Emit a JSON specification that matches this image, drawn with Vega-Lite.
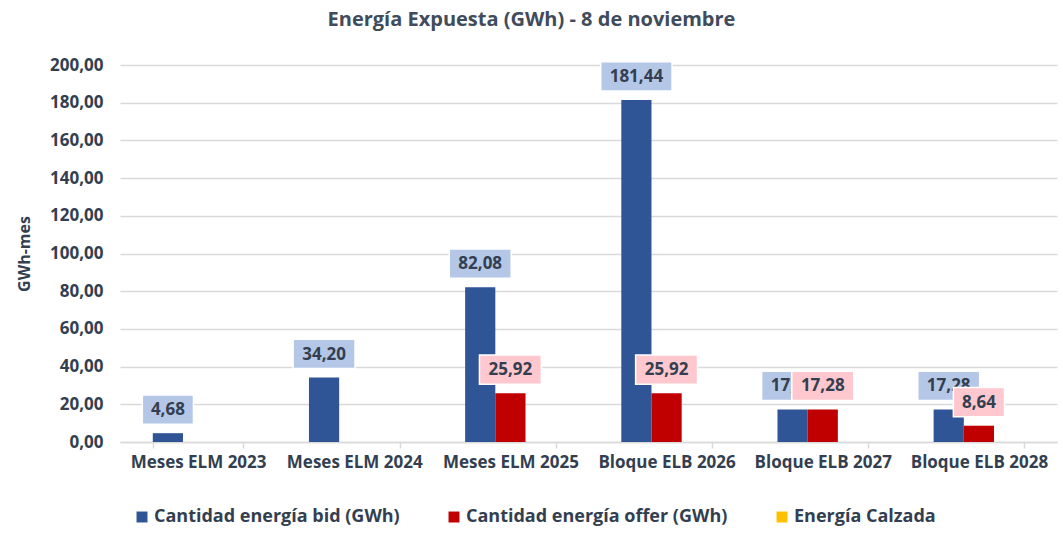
{
  "$schema": "https://vega.github.io/schema/vega-lite/v6.json",
  "autosize": {"type": "none"},
  "padding": {"left": 120, "top": 65, "right": 6, "bottom": 91},
  "width": 937,
  "height": 377,
  "background": "white",
  "title": {"text": "Energía Expuesta (GWh) - 8 de noviembre", "font": "Open Sans", "fontSize": 20, "fontWeight": "bold", "color": "#404b5b", "dx": -57, "offset": 26},
  "config": {
    "locale": {"number": {"decimal": ",", "thousands": ".", "grouping": [3], "currency": ["", ""]}},
    "view": {"stroke": null},
    "font": "Open Sans"
  },
  "data": {"values": [
    {"cat": "Meses ELM 2023", "serie": "Cantidad energía bid (GWh)", "valor": 4.68},
    {"cat": "Meses ELM 2024", "serie": "Cantidad energía bid (GWh)", "valor": 34.20},
    {"cat": "Meses ELM 2025", "serie": "Cantidad energía bid (GWh)", "valor": 82.08},
    {"cat": "Bloque ELB 2026", "serie": "Cantidad energía bid (GWh)", "valor": 181.44},
    {"cat": "Bloque ELB 2027", "serie": "Cantidad energía bid (GWh)", "valor": 17.28},
    {"cat": "Bloque ELB 2028", "serie": "Cantidad energía bid (GWh)", "valor": 17.28},
    {"cat": "Meses ELM 2025", "serie": "Cantidad energía offer (GWh)", "valor": 25.92},
    {"cat": "Bloque ELB 2026", "serie": "Cantidad energía offer (GWh)", "valor": 25.92},
    {"cat": "Bloque ELB 2027", "serie": "Cantidad energía offer (GWh)", "valor": 17.28},
    {"cat": "Bloque ELB 2028", "serie": "Cantidad energía offer (GWh)", "valor": 8.64}
  ]},
  "encoding": {
    "x": {"field": "cat", "type": "nominal", "sort": null,
      "scale": {"domain": ["Meses ELM 2023", "Meses ELM 2024", "Meses ELM 2025", "Bloque ELB 2026", "Bloque ELB 2027", "Bloque ELB 2028"], "paddingInner": 0.42, "paddingOuter": 0.21},
      "axis": {"title": null, "labelAngle": 0, "labelFont": "Open Sans", "labelFontSize": 17, "labelFontWeight": "bold", "labelColor": "#333f50", "domainColor": "#d9d9d9", "domainWidth": 1.5, "tickColor": "#d9d9d9", "tickWidth": 1.5, "tickBand": "extent", "tickSize": 6, "labelPadding": 6, "grid": false}},
    "xOffset": {"field": "serie", "type": "nominal", "scale": {"domain": ["Cantidad energía bid (GWh)", "Cantidad energía offer (GWh)", "Energía Calzada"], "paddingInner": 0, "paddingOuter": 0}},
    "y": {"field": "valor", "type": "quantitative",
      "scale": {"domain": [0, 200], "nice": false},
      "axis": {"title": "GWh-mes", "titleFont": "Open Sans", "titleFontSize": 16, "titleFontWeight": "bold", "titleColor": "#333f50", "titlePadding": 17, "values": [0, 20, 40, 60, 80, 100, 120, 140, 160, 180, 200], "format": ".2f", "labelFont": "Open Sans", "labelFontSize": 17, "labelFontWeight": "bold", "labelColor": "#333f50", "labelPadding": 17, "ticks": false, "domain": false, "gridColor": "#d9d9d9", "gridWidth": 1.5}}
  },
  "layer": [
    {
      "mark": {"type": "bar"},
      "encoding": {
        "color": {"field": "serie", "type": "nominal",
          "scale": {"domain": ["Cantidad energía bid (GWh)", "Cantidad energía offer (GWh)", "Energía Calzada"], "range": ["#2f5597", "#c00000", "#ffc000"]},
          "legend": {"title": null, "orient": "none", "legendX": 13, "legendY": 443, "direction": "horizontal", "symbolType": "square", "symbolSize": 120, "symbolStrokeWidth": 0, "labelFont": "Open Sans", "labelFontSize": 18, "labelFontWeight": "bold", "labelColor": "#333f50", "labelOffset": 3, "labelLimit": 0, "columnPadding": 45}}
      }
    },
    {
      "transform": [{"filter": "datum.serie == 'Cantidad energía bid (GWh)'"}],
      "mark": {"type": "point", "filled": true, "fill": "#b4c7e7", "stroke": "white", "strokeWidth": 1.5, "opacity": 1, "strokeOpacity": 1, "fillOpacity": 1, "size": 5184},
      "encoding": {
        "shape": {"condition": [
          {"test": "datum.valor < 10", "value": "M-0.71,-1.06H0.71V-0.25H-0.71Z"},
          {"test": "datum.valor >= 100", "value": "M-0.99,-1.06H0.99V-0.25H-0.99Z"}
        ], "value": "M-0.86,-1.06H0.86V-0.25H-0.86Z"}
      }
    },
    {
      "transform": [{"filter": "datum.serie == 'Cantidad energía bid (GWh)'"}],
      "mark": {"type": "text", "dy": -23, "baseline": "middle", "align": "center", "font": "Open Sans", "fontSize": 17, "fontWeight": "bold", "color": "#333f50"},
      "encoding": {"text": {"field": "valor", "type": "quantitative", "format": ".2f"}}
    },
    {
      "transform": [{"filter": "datum.serie == 'Cantidad energía offer (GWh)'"}],
      "mark": {"type": "point", "filled": true, "fill": "#ffc7ce", "stroke": "white", "strokeWidth": 1.5, "opacity": 1, "strokeOpacity": 1, "fillOpacity": 1, "size": 5184},
      "encoding": {
        "shape": {"condition": [
          {"test": "datum.valor < 10", "value": "M-0.71,-1.06H0.71V-0.25H-0.71Z"},
          {"test": "datum.valor >= 100", "value": "M-0.99,-1.06H0.99V-0.25H-0.99Z"}
        ], "value": "M-0.86,-1.06H0.86V-0.25H-0.86Z"}
      }
    },
    {
      "transform": [{"filter": "datum.serie == 'Cantidad energía offer (GWh)'"}],
      "mark": {"type": "text", "dy": -23, "baseline": "middle", "align": "center", "font": "Open Sans", "fontSize": 17, "fontWeight": "bold", "color": "#333f50"},
      "encoding": {"text": {"field": "valor", "type": "quantitative", "format": ".2f"}}
    }
  ]
}
